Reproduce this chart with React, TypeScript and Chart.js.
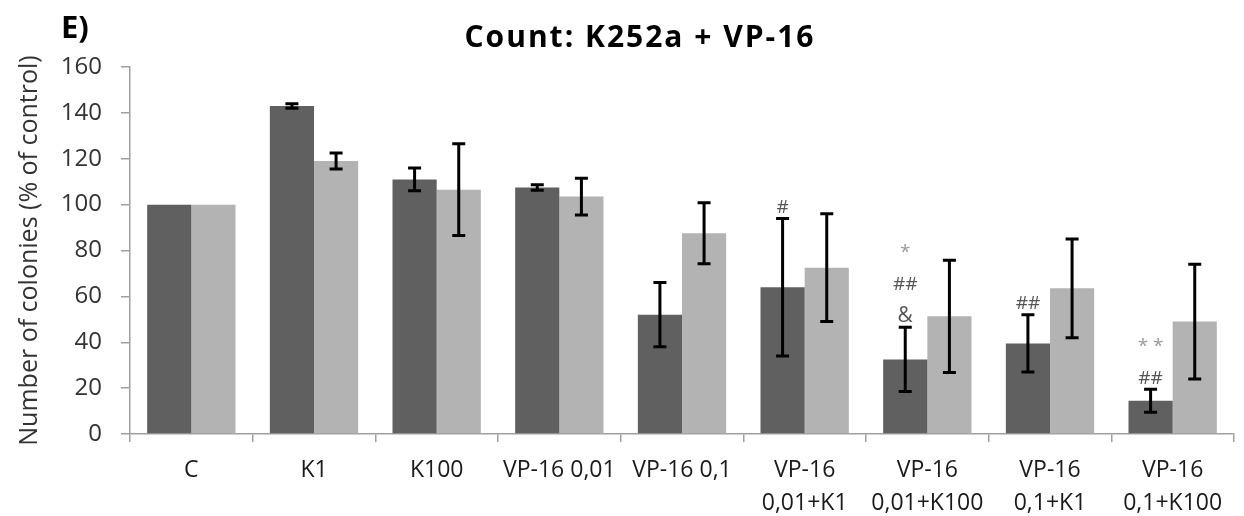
import React, { useEffect, useRef } from "react";
import { Chart, registerables } from "chart.js";

Chart.register(...registerables);

const categories: string[][] = [
  ["C"],
  ["K1"],
  ["K100"],
  ["VP-16 0,01"],
  ["VP-16 0,1"],
  ["VP-16", "0,01+K1"],
  ["VP-16", "0,01+K100"],
  ["VP-16", "0,1+K1"],
  ["VP-16", "0,1+K100"],
];
const seriesDark = [100, 143, 111, 107.5, 52, 64, 32.5, 39.5, 14.5];
const errorsDark = [0, 1, 5, 1.2, 14, 30, 14, 12.5, 5];
const seriesLight = [100, 119, 106.5, 103.5, 87.5, 72.5, 51.3, 63.5, 49];
const errorsLight = [0, 3.5, 20, 8, 13.3, 23.5, 24.5, 21.5, 25];
const yMin = 0;
const yMax = 160;
const yStep = 20;
const titleText = "Count: K252a + VP-16";
const panelLabel = "E)";
const yTitle = "Number of colonies (% of control)";
// significance marks above the dark bars, listed top to bottom
const marks: { index: number; lines: { text: string; color: string }[] }[] = [
  { index: 5, lines: [{ text: "#", color: "#555555" }] },
  {
    index: 6,
    lines: [
      { text: "*", color: "#9a9a9a" },
      { text: "##", color: "#555555" },
      { text: "&", color: "#555555" },
    ],
  },
  { index: 7, lines: [{ text: "##", color: "#555555" }] },
  {
    index: 8,
    lines: [
      { text: "* *", color: "#9a9a9a" },
      { text: "##", color: "#555555" },
    ],
  },
];

const errorsList = [errorsDark, errorsLight];

const extrasPlugin = {
  id: "extras",
  afterDatasetsDraw(chart: any) {
    const ctx = chart.ctx;
    const y = chart.scales.y;
    ctx.save();
    // error bars
    chart.data.datasets.forEach((ds: any, di: number) => {
      const meta = chart.getDatasetMeta(di);
      meta.data.forEach((el: any, i: number) => {
        const err = errorsList[di][i];
        if (!err) return;
        const v = ds.data[i];
        const top = y.getPixelForValue(v + err);
        const bot = y.getPixelForValue(v - err);
        const x = el.x;
        ctx.strokeStyle = "#000";
        ctx.lineWidth = 3;
        ctx.beginPath();
        ctx.moveTo(x, top);
        ctx.lineTo(x, bot);
        ctx.moveTo(x - 6.5, top);
        ctx.lineTo(x + 6.5, top);
        ctx.moveTo(x - 6.5, bot);
        ctx.lineTo(x + 6.5, bot);
        ctx.stroke();
      });
    });
    // significance marks
    const meta0 = chart.getDatasetMeta(0);
    ctx.textAlign = "center";
    ctx.textBaseline = "middle";
    marks.forEach((m) => {
      const el = meta0.data[m.index];
      const top = y.getPixelForValue(seriesDark[m.index] + errorsDark[m.index]);
      const n = m.lines.length;
      m.lines.forEach((ln, k) => {
        const fromBottom = n - 1 - k;
        const cy = top - 11 - fromBottom * 32;
        ctx.fillStyle = ln.color;
        ctx.font = (ln.text === "&" ? "21px" : "19px") + " 'Open Sans'";
        ctx.fillText(ln.text, el.x, cy);
      });
    });
    // title and panel label
    ctx.fillStyle = "#000";
    ctx.textBaseline = "middle";
    ctx.font = "bold 30px 'Open Sans'";
    ctx.textAlign = "left";
    try {
      (ctx as any).letterSpacing = "2px";
    } catch (e) {}
    const w = ctx.measureText(titleText).width;
    ctx.fillText(titleText, 640 - w / 2, 38);
    try {
      (ctx as any).letterSpacing = "0px";
    } catch (e) {}
    ctx.font = "bold 31px 'Open Sans'";
    ctx.fillText(panelLabel, 61, 29);
    ctx.restore();
  },
};

export default function App() {
  const ref = useRef<HTMLCanvasElement | null>(null);
  useEffect(() => {
    document.body.style.margin = "0";
    const canvas = ref.current;
    if (!canvas) return;
    const chart = new Chart(canvas, {
      type: "bar",
      data: {
        labels: categories,
        datasets: [
          {
            data: seriesDark,
            backgroundColor: "#606060",
            categoryPercentage: 0.72,
            barPercentage: 1,
          },
          {
            data: seriesLight,
            backgroundColor: "#b3b3b3",
            categoryPercentage: 0.72,
            barPercentage: 1,
          },
        ],
      },
      options: {
        responsive: false,
        animation: false,
        layout: { padding: { top: 67, right: 10, bottom: 0, left: 0 } },
        plugins: {
          legend: { display: false },
          tooltip: { enabled: false },
          title: { display: false },
        },
        scales: {
          x: {
            grid: {
              drawOnChartArea: false,
              color: "#a0a0a0",
              tickLength: 8,
              offset: true,
              lineWidth: 1.5,
            },
            border: { color: "#a0a0a0", width: 1.5 },
            ticks: {
              color: "#1a1a1a",
              font: { family: "'Open Sans'", size: 23, lineHeight: 1.43 },
              padding: 12,
              maxRotation: 0,
              autoSkip: false,
            },
            afterFit: (s: any) => {
              s.height = 82;
            },
          },
          y: {
            min: yMin,
            max: yMax,
            ticks: {
              stepSize: yStep,
              color: "#333333",
              font: { family: "'Open Sans'", size: 24 },
              padding: 19,
            },
            grid: {
              drawOnChartArea: false,
              tickLength: 9,
              color: "#a0a0a0",
              lineWidth: 1.5,
            },
            border: { color: "#a0a0a0", width: 1.5 },
            title: {
              display: true,
              text: yTitle,
              color: "#333333",
              font: { family: "'Open Sans'", size: 25 },
              padding: { top: 15, bottom: 0 },
            },
            afterFit: (s: any) => {
              s.width = 130;
            },
          },
        },
      },
      plugins: [extrasPlugin],
    } as any);
    return () => chart.destroy();
  }, []);
  return <canvas ref={ref} width={1244} height={516} style={{ display: "block" }} />;
}
